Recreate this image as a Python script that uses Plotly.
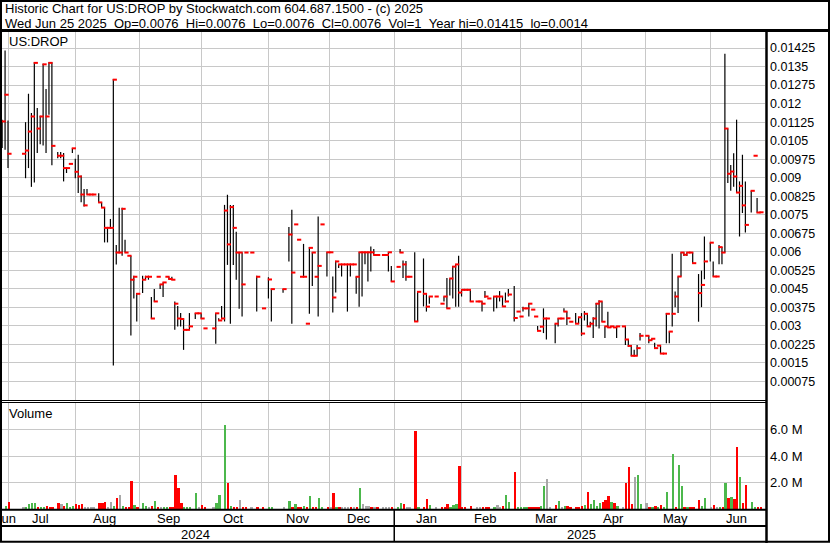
import pandas as pd
import plotly.graph_objects as go

# ---------------- data ----------------
price_dates = [
    "2024-06-27", "2024-06-28", "2024-07-01", "2024-07-08", "2024-07-09", "2024-07-10", "2024-07-11", "2024-07-12", "2024-07-15", "2024-07-16",
    "2024-07-17", "2024-07-18", "2024-07-19", "2024-07-22", "2024-07-24", "2024-07-25", "2024-07-26", "2024-07-29", "2024-07-30", "2024-07-31",
    "2024-08-01", "2024-08-02", "2024-08-05", "2024-08-06", "2024-08-07", "2024-08-08", "2024-08-09", "2024-08-13", "2024-08-14", "2024-08-15",
    "2024-08-16", "2024-08-19", "2024-08-20", "2024-08-21", "2024-08-22", "2024-08-23", "2024-08-26", "2024-08-27", "2024-08-28", "2024-08-29", "2024-08-30",
    "2024-09-03", "2024-09-04", "2024-09-05", "2024-09-06", "2024-09-09", "2024-09-10", "2024-09-11", "2024-09-12", "2024-09-13", "2024-09-16",
    "2024-09-17", "2024-09-18", "2024-09-19", "2024-09-20", "2024-09-23", "2024-09-24", "2024-09-25", "2024-09-27", "2024-09-30",
    "2024-10-01", "2024-10-02", "2024-10-07", "2024-10-08", "2024-10-09", "2024-10-10", "2024-10-11", "2024-10-14", "2024-10-15", "2024-10-16",
    "2024-10-17", "2024-10-18", "2024-10-21", "2024-10-22", "2024-10-24", "2024-10-28", "2024-10-30",
    "2024-11-01", "2024-11-04", "2024-11-08", "2024-11-12", "2024-11-13", "2024-11-14", "2024-11-15", "2024-11-18", "2024-11-19", "2024-11-20",
    "2024-11-21", "2024-11-22", "2024-11-25", "2024-11-26", "2024-11-27", "2024-11-29",
    "2024-12-02", "2024-12-03", "2024-12-04", "2024-12-05", "2024-12-06", "2024-12-09", "2024-12-10", "2024-12-11", "2024-12-12", "2024-12-13",
    "2024-12-16", "2024-12-17", "2024-12-18", "2024-12-19", "2024-12-20", "2024-12-23", "2024-12-24", "2024-12-26", "2024-12-27", "2024-12-30", "2024-12-31",
    "2025-01-02", "2025-01-03", "2025-01-06", "2025-01-07", "2025-01-08", "2025-01-10", "2025-01-13", "2025-01-15", "2025-01-16", "2025-01-17",
    "2025-01-21", "2025-01-23", "2025-01-24", "2025-01-27", "2025-01-28", "2025-01-29", "2025-01-30", "2025-01-31",
    "2025-02-03", "2025-02-04", "2025-02-05", "2025-02-06", "2025-02-10", "2025-02-11", "2025-02-12", "2025-02-13", "2025-02-14", "2025-02-18",
    "2025-02-19", "2025-02-20", "2025-02-21", "2025-02-24", "2025-02-25", "2025-02-27", "2025-02-28",
    "2025-03-03", "2025-03-04", "2025-03-05", "2025-03-06", "2025-03-07", "2025-03-10", "2025-03-11", "2025-03-12", "2025-03-13", "2025-03-14",
    "2025-03-19", "2025-03-20", "2025-03-21", "2025-03-24", "2025-03-25", "2025-03-26", "2025-03-28", "2025-03-31",
    "2025-04-01", "2025-04-02", "2025-04-03", "2025-04-04", "2025-04-07", "2025-04-08", "2025-04-09", "2025-04-10", "2025-04-11", "2025-04-14",
    "2025-04-15", "2025-04-16", "2025-04-17", "2025-04-21", "2025-04-22", "2025-04-23", "2025-04-24", "2025-04-25", "2025-04-28", "2025-04-29",
    "2025-05-01", "2025-05-02", "2025-05-05", "2025-05-06", "2025-05-07", "2025-05-08", "2025-05-09", "2025-05-12", "2025-05-13", "2025-05-14",
    "2025-05-15", "2025-05-16", "2025-05-19", "2025-05-20", "2025-05-21", "2025-05-22", "2025-05-23", "2025-05-27", "2025-05-28", "2025-05-29",
    "2025-06-02", "2025-06-03", "2025-06-04", "2025-06-05", "2025-06-06", "2025-06-09", "2025-06-10", "2025-06-11", "2025-06-12", "2025-06-13",
    "2025-06-16", "2025-06-17", "2025-06-18", "2025-06-20", "2025-06-23", "2025-06-24", "2025-06-25",
]

price_high = [
    .01135, .01415, .01132, .00997, .01125, .01240, .01162, .01368, .01182, .01151,
    .01361, .01259, .01368, .01368, .01004, .01004, .01000, .00939, .00956, .01019,
    .00977, .00993, .00909, .00854, .00854, .00832, .00832, .00837, .00800, .00779,
    .00697, .00733, .01300, .00628, .00778, .00778, .00649, .00584, .00584, .00503, .00433,
    .00503, .00503, .00503, .00417, .00449, .00499, .00468, .00476, .00499, .00499,
    .00499, .00399, .00381, .00352, .00330, .00284, .00352, .00351, .00351,
    .00351, .00290, .00290, .00352, .00331, .00381, .00790, .00831, .00790, .00790,
    .00681, .00597, .00597, .00597, .00597, .00503, .00371,
    .00497, .00449, .00449, .00700, .00770, .00711, .00649, .00499, .00632, .00309,
    .00619, .00598, .00499, .00743, .00711, .00598,
    .00598, .00500, .00564, .00549, .00549, .00549, .00549, .00549, .00549, .00500,
    .00598, .00598, .00598, .00598, .00622, .00611, .00587, .00587, .00587, .00598, .00543,
    .00539, .00611, .00565, .00563, .00499, .00598, .00438, .00573, .00430, .00419,
    .00419, .00390, .00419, .00494, .00492, .00543, .00550, .00584,
    .00446, .00446, .00446, .00446, .00399, .00399, .00399, .00441, .00411, .00419,
    .00419, .00441, .00419, .00435, .00449, .00462, .00358,
    .00338, .00378, .00371, .00392, .00366, .00338, .00300, .00300, .00371, .00330,
    .00309, .00331, .00330, .00371, .00358, .00317, .00352, .00335,
    .00352, .00360, .00349, .00317, .00335, .00393, .00404, .00399, .00298, .00357,
    .00298, .00294, .00298, .00298, .00298, .00244, .00223, .00203, .00223, .00271,
    .00260, .00260, .00248, .00232, .00220, .00220, .00188, .00352, .00277, .00592,
    .00439, .00500, .00597, .00597, .00597, .00597, .00597, .00510, .00524, .00662,
    .00637, .00561, .00500, .00628, .00619, .01402, .01099, .00952, .00999, .01135,
    .00885, .00993, .00885, .00847, .00989, .00818, .00760,
]

price_low = [
    .01020, .01013, .00939, .00997, .00898, .00939, .00863, .00881, .01000, .01036,
    .01030, .01000, .01155, .00950, .00979, .00979, .00885, .00919, .00956, .01000,
    .00898, .00838, .00801, .00783, .00832, .00832, .00832, .00800, .00777, .00638,
    .00638, .00697, .00140, .00549, .00597, .00584, .00597, .00584, .00261, .00411, .00318,
    .00433, .00487, .00487, .00330, .00399, .00499, .00449, .00417, .00499, .00487,
    .00487, .00284, .00298, .00298, .00203, .00284, .00287, .00328, .00351,
    .00330, .00290, .00290, .00228, .00322, .00330, .00318, .00547, .00309, .00547,
    .00487, .00369, .00338, .00597, .00597, .00358, .00371,
    .00411, .00318, .00434, .00561, .00309, .00711, .00649, .00499, .00499, .00309,
    .00349, .00462, .00499, .00338, .00711, .00500,
    .00598, .00354, .00435, .00534, .00500, .00549, .00358, .00500, .00549, .00430,
    .00378, .00419, .00550, .00480, .00520, .00587, .00587, .00587, .00587, .00520, .00480,
    .00539, .00597, .00494, .00483, .00499, .00318, .00318, .00379, .00358, .00390,
    .00419, .00390, .00399, .00371, .00423, .00411, .00378, .00378,
    .00419, .00446, .00446, .00399, .00399, .00399, .00358, .00414, .00411, .00358,
    .00371, .00399, .00378, .00395, .00419, .00318, .00358,
    .00338, .00358, .00371, .00338, .00366, .00338, .00280, .00294, .00271, .00245,
    .00230, .00298, .00330, .00358, .00304, .00317, .00309, .00309,
    .00260, .00322, .00298, .00298, .00251, .00298, .00290, .00317, .00251, .00294,
    .00294, .00294, .00251, .00298, .00223, .00216, .00179, .00179, .00179, .00241,
    .00260, .00230, .00241, .00208, .00220, .00188, .00188, .00230, .00230, .00298,
    .00376, .00352, .00500, .00583, .00583, .00597, .00554, .00317, .00376, .00489,
    .00561, .00500, .00500, .00550, .00550, .00597, .00879, .00847, .00863, .00838,
    .00662, .00757, .00678, .00759, .00989, .00759, .00760,
]

price_close = [
    .01128, .01236, .00997, .00997, .01010, .01087, .01148, .01365, .01099, .01148,
    .01359, .01148, .01365, .01029, .00989, .00989, .00939, .00939, .00956, .01019,
    .00924, .00905, .00832, .00788, .00832, .00832, .00832, .00800, .00779, .00697,
    .00697, .00697, .01297, .00597, .00597, .00774, .00597, .00584, .00487, .00499, .00430,
    .00487, .00499, .00499, .00330, .00399, .00499, .00468, .00476, .00499, .00490,
    .00487, .00390, .00330, .00328, .00284, .00284, .00298, .00351, .00351,
    .00330, .00290, .00290, .00351, .00322, .00330, .00767, .00630, .00781, .00697,
    .00597, .00597, .00468, .00597, .00597, .00499, .00371,
    .00488, .00449, .00449, .00670, .00516, .00711, .00649, .00499, .00499, .00309,
    .00616, .00597, .00499, .00543, .00711, .00598,
    .00598, .00415, .00561, .00549, .00549, .00549, .00549, .00549, .00549, .00499,
    .00598, .00598, .00598, .00598, .00598, .00587, .00587, .00587, .00587, .00598, .00480,
    .00539, .00597, .00549, .00499, .00499, .00318, .00438, .00430, .00378, .00419,
    .00419, .00390, .00419, .00371, .00492, .00540, .00549, .00435,
    .00446, .00446, .00446, .00399, .00399, .00399, .00390, .00419, .00411, .00419,
    .00419, .00419, .00379, .00399, .00427, .00332, .00358,
    .00338, .00371, .00371, .00390, .00366, .00338, .00280, .00297, .00330, .00330,
    .00309, .00330, .00330, .00358, .00331, .00317, .00309, .00335,
    .00269, .00349, .00298, .00309, .00330, .00390, .00399, .00317, .00298, .00294,
    .00298, .00294, .00298, .00298, .00245, .00219, .00179, .00179, .00210, .00260,
    .00260, .00242, .00248, .00210, .00220, .00188, .00188, .00349, .00277, .00349,
    .00419, .00500, .00597, .00588, .00597, .00597, .00554, .00433, .00466, .00561,
    .00637, .00500, .00500, .00619, .00597, .01099, .00916, .00925, .00905, .00840,
    .00867, .00788, .00709, .00847, .00989, .00759, .00760,
]

vol_dates = [
    "2024-06-28", "2024-07-01", "2024-07-08", "2024-07-09", "2024-07-10", "2024-07-11", "2024-07-12", "2024-07-15", "2024-07-16", "2024-07-17",
    "2024-07-18", "2024-07-19", "2024-07-22", "2024-07-24", "2024-07-25", "2024-07-26", "2024-07-29", "2024-07-30", "2024-07-31",
    "2024-08-01", "2024-08-02", "2024-08-05", "2024-08-06", "2024-08-07", "2024-08-08", "2024-08-09", "2024-08-13", "2024-08-14", "2024-08-15",
    "2024-08-16", "2024-08-19", "2024-08-20", "2024-08-21", "2024-08-22", "2024-08-23", "2024-08-26", "2024-08-27", "2024-08-28", "2024-08-29", "2024-08-30",
    "2024-09-03", "2024-09-04", "2024-09-05", "2024-09-06", "2024-09-09", "2024-09-10", "2024-09-11", "2024-09-12", "2024-09-13", "2024-09-16",
    "2024-09-17", "2024-09-18", "2024-09-19", "2024-09-20", "2024-09-23", "2024-09-24", "2024-09-25", "2024-09-27", "2024-09-30",
    "2024-10-01", "2024-10-02", "2024-10-07", "2024-10-08", "2024-10-09", "2024-10-11", "2024-10-14", "2024-10-15", "2024-10-16", "2024-10-17",
    "2024-10-18", "2024-10-21", "2024-10-22", "2024-10-24", "2024-10-28", "2024-10-30",
    "2024-11-01", "2024-11-04", "2024-11-08", "2024-11-12", "2024-11-13", "2024-11-14", "2024-11-15", "2024-11-18", "2024-11-19", "2024-11-20",
    "2024-11-21", "2024-11-22", "2024-11-25", "2024-11-26", "2024-11-27", "2024-11-29",
    "2024-12-02", "2024-12-03", "2024-12-04", "2024-12-05", "2024-12-06", "2024-12-09", "2024-12-10", "2024-12-11", "2024-12-12", "2024-12-13",
    "2024-12-16", "2024-12-17", "2024-12-18", "2024-12-19", "2024-12-20", "2024-12-23", "2024-12-24", "2024-12-26", "2024-12-27", "2024-12-30", "2024-12-31",
    "2025-01-02", "2025-01-03", "2025-01-06", "2025-01-07", "2025-01-08", "2025-01-10", "2025-01-13", "2025-01-15", "2025-01-16", "2025-01-17",
    "2025-01-21", "2025-01-23", "2025-01-24", "2025-01-27", "2025-01-28", "2025-01-29", "2025-01-30", "2025-01-31",
    "2025-02-03", "2025-02-04", "2025-02-06", "2025-02-10", "2025-02-11", "2025-02-12", "2025-02-13", "2025-02-14", "2025-02-18", "2025-02-19",
    "2025-02-20", "2025-02-21", "2025-02-24", "2025-02-25", "2025-02-27", "2025-02-28",
    "2025-03-03", "2025-03-04", "2025-03-05", "2025-03-06", "2025-03-07", "2025-03-10", "2025-03-11", "2025-03-12", "2025-03-13", "2025-03-14",
    "2025-03-17", "2025-03-19", "2025-03-20", "2025-03-21", "2025-03-24", "2025-03-25", "2025-03-26", "2025-03-28", "2025-03-31",
    "2025-04-01", "2025-04-02", "2025-04-03", "2025-04-04", "2025-04-07", "2025-04-08", "2025-04-09", "2025-04-10", "2025-04-11", "2025-04-14",
    "2025-04-15", "2025-04-16", "2025-04-17", "2025-04-21", "2025-04-22", "2025-04-23", "2025-04-24", "2025-04-25", "2025-04-28", "2025-04-29",
    "2025-05-01", "2025-05-02", "2025-05-05", "2025-05-06", "2025-05-07", "2025-05-08", "2025-05-09", "2025-05-12", "2025-05-14", "2025-05-15",
    "2025-05-16", "2025-05-19", "2025-05-20", "2025-05-21", "2025-05-22", "2025-05-23", "2025-05-27", "2025-05-28", "2025-05-29",
    "2025-06-02", "2025-06-03", "2025-06-04", "2025-06-05", "2025-06-06", "2025-06-09", "2025-06-10", "2025-06-11", "2025-06-12", "2025-06-13",
    "2025-06-16", "2025-06-17", "2025-06-18", "2025-06-20", "2025-06-23", "2025-06-24", "2025-06-25",
]

vol_millions = [
    .23, .54, .08, .10, .41, .49, .49, .18, .10, .15,
    .23, .15, .18, .46, .38, .26, .46, .08, .26,
    .38, .33, .41, .08, .08, .08, .08, .46, .46, .54,
    .08, .54, .23, .80, 1.08, .23, .08, .08, 2.15, .31, .15,
    .46, .23, .08, .23, .62, .08, .08, .15, .15, .08,
    .08, 2.60, 1.60, .46, .15, .08, .15, 1.23, .08,
    .31, .08, .08, .46, 1.08, 6.38, 2.00, .23, .15, .15,
    .70, .08, .08, .08, .08, .08,
    .08, .08, .15, .62, .15, .38, .15, .08, .23, .08,
    1.00, .15, .08, .85, .08, .15,
    .08, 1.23, .15, .15, .08, .08, .08, .15, .08, .08,
    1.60, .38, .23, .23, .15, .08, .08, .08, .08, .08, .08,
    .08, .46, .38, .08, .08, 5.87, .08, .08, .77, .31,
    .08, .08, .08, .38, .15, .31, .38, 3.23,
    .08, .08, .23, .08, .08, .08, .08, .08, .15, .31,
    .08, .23, 1.08, .54, 2.77, .08,
    .08, .08, .08, .08, .08, .08, .08, .23, 1.77, 2.30,
    .08, .31, .62, .15, .23, .23, .08, .15, .15,
    .23, .31, 1.30, .38, .70, .23, .46, .54, .70, 1.00,
    .54, .46, .23, .08, 2.00, 3.15, .38, 2.46, 2.60, .38,
    .46, .08, .15, .23, .15, .31, .08, 1.30, 4.15, .08,
    3.30, 1.77, .08, .15, .08, .08, .70, .23, .85,
    .08, .31, .08, .15, .15, 2.00, .85, .92, .77, 4.70,
    2.46, .46, 1.85, .54, .08, .08, .08,
]

# u = close up, d = close down, n = unchanged
vol_dir = [
    "u", "d", "n", "u", "u", "u", "u", "d", "u", "u",
    "d", "d", "d", "d", "n", "d", "u", "u", "u",
    "d", "d", "d", "n", "n", "n", "n", "d", "d", "d",
    "n", "n", "u", "d", "n", "u", "d", "d", "d", "u", "d",
    "u", "u", "n", "d", "u", "d", "n", "u", "u", "d",
    "d", "d", "d", "d", "u", "u", "u", "u", "n",
    "d", "d", "n", "u", "u", "u", "d", "u", "d", "d",
    "n", "d", "d", "n", "d", "d",
    "u", "u", "n", "u", "d", "u", "d", "d", "u", "d",
    "u", "d", "d", "u", "u", "d",
    "n", "d", "u", "d", "n", "n", "n", "d", "n", "d",
    "u", "n", "n", "n", "d", "n", "d", "n", "n", "n", "d",
    "u", "u", "d", "n", "n", "d", "u", "d", "d", "u",
    "n", "d", "d", "d", "u", "u", "u", "d",
    "d", "d", "d", "n", "n", "d", "d", "d", "u", "n",
    "n", "d", "u", "u", "d", "u",
    "u", "u", "u", "d", "d", "d", "d", "u", "u", "n",
    "n", "d", "u", "n", "u", "d", "d", "d", "d",
    "d", "u", "d", "u", "u", "u", "u", "d", "d", "d",
    "u", "d", "u", "n", "d", "d", "d", "n", "u", "u",
    "n", "d", "u", "d", "u", "d", "u", "u", "u", "d",
    "u", "u", "d", "u", "d", "d", "d", "u", "u",
    "n", "d", "n", "u", "d", "u", "d", "u", "d", "d",
    "u", "d", "d", "u", "u", "d", "d",
]

price_tick_vals = [0.00075, 0.0015, 0.00225, 0.003, 0.00375, 0.0045, 0.00525, 0.006, 0.00675, 0.0075,
                   0.00825, 0.009, 0.00975, 0.0105, 0.01125, 0.012, 0.01275, 0.0135, 0.01425]
price_tick_text = ["0.00075", "0.0015", "0.00225", "0.003", "0.00375", "0.0045", "0.00525", "0.006", "0.00675", "0.0075",
                   "0.00825", "0.009", "0.00975", "0.0105", "0.01125", "0.012", "0.01275", "0.0135", "0.01425"]
vol_tick_vals = [2, 4, 6]
vol_tick_text = ["2.0 M", "4.0 M", "6.0 M"]

month_starts = ["2024-07-01", "2024-08-01", "2024-09-02", "2024-10-01", "2024-11-01", "2024-12-02",
                "2025-01-01", "2025-02-03", "2025-03-03", "2025-04-01", "2025-05-01", "2025-06-02"]
month_label_dates = ["2024-06-28", "2024-07-16", "2024-08-15", "2024-09-16", "2024-10-16", "2024-11-15", "2024-12-16",
                     "2025-01-16", "2025-02-13", "2025-03-14", "2025-04-16", "2025-05-15", "2025-06-13"]
month_labels = ["Jun", "Jul", "Aug", "Sep", "Oct", "Nov", "Dec", "Jan", "Feb", "Mar", "Apr", "May", "Jun"]
year_label_dates = ["2024-09-27", "2025-04-01"]
year_labels = ["2024", "2025"]
year_break = "2025-01-01"
x_range = ["2024-06-26 22:48", "2025-06-26 17:00"]

header_1 = "Historic Chart for US:DROP by Stockwatch.com 604.687.1500 - (c) 2025"
header_2_fields = ["Wed Jun 25 2025", "Op=0.0076", "Hi=0.0076", "Lo=0.0076", "Cl=0.0076", "Vol=1",
                   "Year hi=0.01415", "lo=0.0014"]

# ---------------- figure ----------------
W, H = 830, 543
FONT = "Arial, Liberation Sans, sans-serif"
GRID = "#c8c8c8"
TXT = "#000000"


def px(x):
    return x / W


def py(y):
    return 1 - y / H


assert len(price_dates) == len(price_high) == len(price_low) == len(price_close)
assert len(vol_dates) == len(vol_millions) == len(vol_dir)

# high-low lines
hl_x, hl_y = [], []
for d, hi, lo in zip(price_dates, price_high, price_low):
    hl_x += [d, d, None]
    hl_y += [lo, hi, None]

close_x = (pd.to_datetime(price_dates) + pd.Timedelta(hours=12)).strftime("%Y-%m-%d %H:%M").tolist()
vol_x = (pd.to_datetime(vol_dates) + pd.Timedelta(hours=8)).strftime("%Y-%m-%d %H:%M").tolist()
dir_colors = {"u": "#4cb84c", "d": "#ff0000", "n": "#a8a8a8"}
vol_colors = [dir_colors[k] for k in vol_dir]

fig = go.Figure()
fig.add_trace(go.Scatter(x=hl_x, y=hl_y, mode="lines", line=dict(color="black", width=1.2),
                         xaxis="x", yaxis="y", hoverinfo="skip", showlegend=False))
fig.add_trace(go.Scatter(x=close_x, y=price_close, mode="markers",
                         marker=dict(symbol="line-ew", size=3, line=dict(color="#ff0000", width=2)),
                         xaxis="x", yaxis="y", hoverinfo="skip", showlegend=False))
fig.add_trace(go.Bar(x=vol_x, y=vol_millions, marker=dict(color=vol_colors, line=dict(width=0)),
                     width=0.62 * 86400000, xaxis="x2", yaxis="y2", hoverinfo="skip", showlegend=False))

xcommon = dict(type="date", range=x_range, rangebreaks=[dict(bounds=["sat", "mon"])],
               tickmode="array", tickvals=month_starts, showticklabels=False, ticks="",
               showgrid=True, gridcolor=GRID, gridwidth=1, zeroline=False, showline=False,
               domain=[px(2), px(765)], fixedrange=True)

fig.update_layout(
    width=W, height=H, margin=dict(l=0, r=0, t=0, b=0),
    paper_bgcolor="white", plot_bgcolor="white",
    font=dict(family=FONT, size=13, color=TXT),
    showlegend=False, hovermode=False, bargap=0,
    xaxis=dict(anchor="y", **xcommon),
    xaxis2=dict(anchor="y2", matches="x", **xcommon),
    yaxis=dict(domain=[py(400), py(32)], range=[0, 0.0149], side="right", anchor="x",
               tickmode="array", tickvals=price_tick_vals, ticktext=price_tick_text, ticks="",
               ticklabelstandoff=4, tickfont=dict(family=FONT, size=12.5, color=TXT),
               showgrid=True, gridcolor=GRID, zeroline=False, showline=False, fixedrange=True),
    yaxis2=dict(domain=[py(509), py(402)], range=[0, 8.1], side="right", anchor="x2",
                tickmode="array", tickvals=vol_tick_vals, ticktext=vol_tick_text, ticks="",
                ticklabelstandoff=4, tickfont=dict(family=FONT, size=13, color=TXT),
                showgrid=True, gridcolor=GRID, zeroline=False, showline=False, fixedrange=True),
)

ann = []
ann.append(dict(text=header_1, x=px(3), y=py(8.5), xref="paper", yref="paper",
                xanchor="left", yanchor="middle", showarrow=False, font=dict(size=13)))
ann.append(dict(text="\u00a0\u00a0".join(header_2_fields), x=px(3), y=py(23), xref="paper", yref="paper",
                xanchor="left", yanchor="middle", showarrow=False, font=dict(size=13)))
ann.append(dict(text="US:DROP", x=px(7), y=py(41.5), xref="paper", yref="paper",
                xanchor="left", yanchor="middle", showarrow=False, font=dict(size=13)))
ann.append(dict(text="Volume", x=px(7), y=py(413.5), xref="paper", yref="paper",
                xanchor="left", yanchor="middle", showarrow=False, font=dict(size=13)))
for d, t in zip(month_label_dates, month_labels):
    ann.append(dict(text=t, x=d, y=py(518.5), xref="x2", yref="paper",
                    xanchor="center", yanchor="middle", showarrow=False, font=dict(size=13)))
for d, t in zip(year_label_dates, year_labels):
    ann.append(dict(text=t, x=d, y=py(534.5), xref="x2", yref="paper",
                    xanchor="center", yanchor="middle", showarrow=False, font=dict(size=13)))
fig.update_layout(annotations=ann)


def hline(y, x0, x1, w):
    return dict(type="line", xref="paper", yref="paper", x0=px(x0), x1=px(x1), y0=py(y), y1=py(y),
                line=dict(color="black", width=w), layer="above")


def vline(x, y0, y1, w):
    return dict(type="line", xref="paper", yref="paper", x0=px(x), x1=px(x), y0=py(y0), y1=py(y1),
                line=dict(color="black", width=w), layer="above")


shapes = [
    hline(30.5, 0, 830, 3),        # under header
    hline(400.5, 0, 766, 1),       # double separator
    hline(402.5, 0, 766, 1),
    hline(509.8, 0, 766, 2),       # under volume panel
    hline(526, 0, 766, 2),         # under month row
    vline(766.5, 30, 543, 2.5),    # right label column
    dict(type="rect", xref="paper", yref="paper", x0=px(1), x1=px(829), y0=py(541.8), y1=py(1),
         line=dict(color="black", width=2), layer="above"),
    dict(type="line", xref="x2", yref="paper", x0=year_break, x1=year_break, y0=py(542), y1=py(509.8),
         line=dict(color="black", width=1.5), layer="above"),
]
fig.update_layout(shapes=shapes)

# remove the browser's default 8px page margin so the 830x543 figure fills the window
fig.write_html("out.html", config={"displayModeBar": False},
               post_script="document.body.style.margin='0';document.body.style.overflow='hidden';")
